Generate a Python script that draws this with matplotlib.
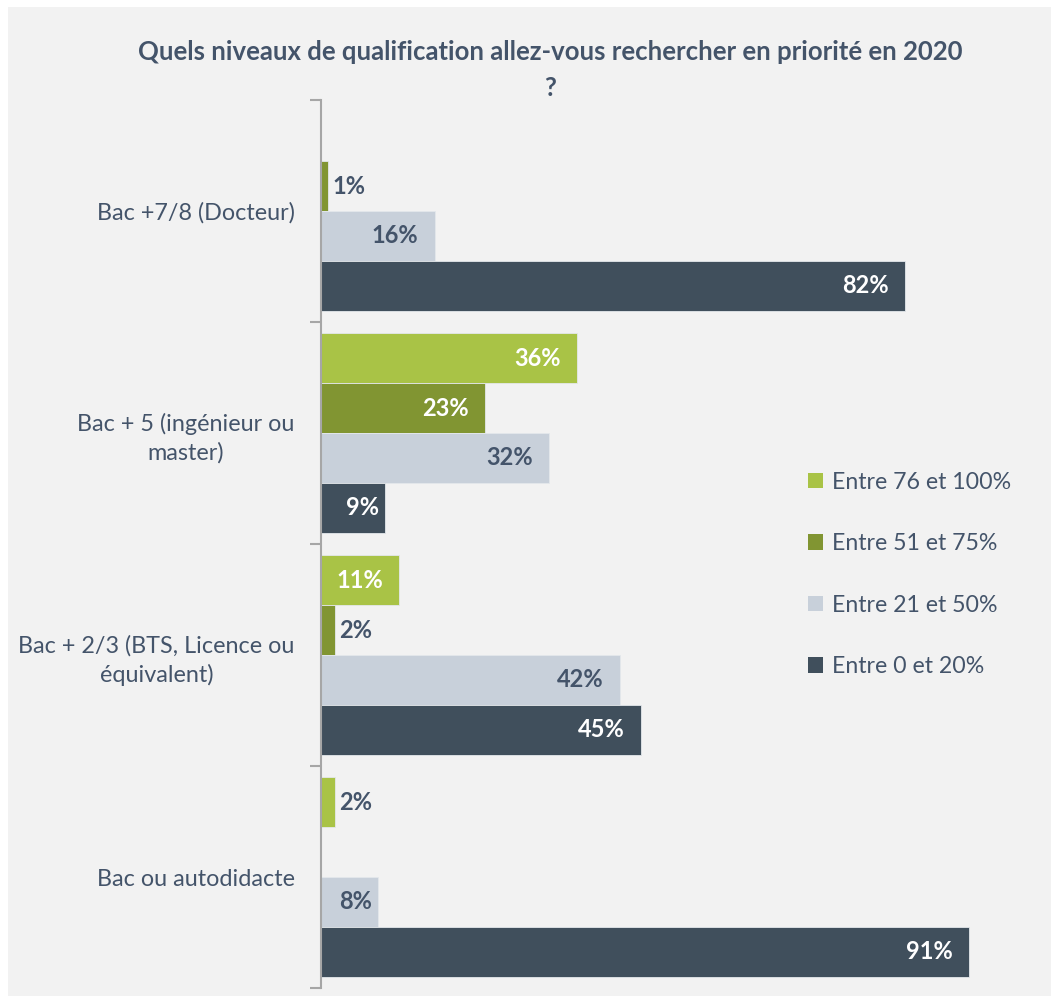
import numpy as np
import matplotlib.pyplot as plt
from matplotlib.patches import Rectangle, Patch

categories = ["Bac +7/8 (Docteur)", "Bac + 5 (ingénieur ou\nmaster)",
              "Bac + 2/3 (BTS, Licence ou\néquivalent)", "Bac ou autodidacte"]
series = ["Entre 76 et 100%", "Entre 51 et 75%", "Entre 21 et 50%", "Entre 0 et 20%"]
v_76_100 = [0, 36, 11, 2]
v_51_75 = [1, 23, 2, 0]
v_21_50 = [16, 32, 42, 8]
v_0_20 = [82, 9, 45, 91]
values = [v_76_100, v_51_75, v_21_50, v_0_20]

colors = ["#a9c346", "#819532", "#c8d0da", "#404f5c"]
label_colors = ["white", "white", "#44546a", "white"]
txt = "#44546a"
bg = "#f2f2f2"

plt.rcParams['font.family'] = ['Lato', 'DejaVu Sans']

fig = plt.figure(figsize=(10.51, 9.96), dpi=100, facecolor="white")
fig.patches.append(Rectangle((8 / 1051, 0), 1 - 8 / 1051, 1 - 7 / 996,
                             transform=fig.transFigure, facecolor=bg,
                             edgecolor="none", zorder=-10))
ax = fig.add_axes([321 / 1051, 8 / 996, 712 / 1051, 888 / 996])
ax.patch.set_alpha(0)

y = np.arange(len(categories))
h = 0.225
for i, vals in enumerate(values):
    pos = y + (i - 1.5) * h
    ax.barh(pos, vals, height=h, color=colors[i], edgecolor="#e4e8ec",
            linewidth=0.6, label=series[i], zorder=2)
    for p, v in zip(pos, vals):
        if v == 0:
            continue
        if v <= 2:
            ax.text(v + 0.6, p, f"{v}%", ha="left", va="center", color=txt,
                    fontsize=17, fontweight="bold")
        else:
            pad = 2.3 if v >= 10 else 0.8
            ax.text(v - pad, p, f"{v}%", ha="right", va="center",
                    color=label_colors[i], fontsize=17, fontweight="bold")

ax.set_xlim(0, 100)
ax.set_ylim(len(categories) - 0.5, -0.5)
ax.set_xticks([])
ax.set_yticks(y)
ax.set_yticklabels(categories, fontsize=16.8, color=txt, multialignment="center",
                   linespacing=1.4)
ax.set_yticks(np.arange(-0.5, len(categories), 1), minor=True)
ax.tick_params(axis="y", which="major", length=0, pad=19)
ax.tick_params(axis="y", which="minor", length=8, width=1.5, color="#a6a6a6")
for s in ["top", "right", "bottom"]:
    ax.spines[s].set_visible(False)
ax.spines["left"].set_color("#a6a6a6")
ax.spines["left"].set_linewidth(1.5)

handles = [Patch(facecolor=c, edgecolor="none") for c in colors]
ax.legend(handles, series, loc="center left", bbox_to_anchor=(0.654, 0.4657),
          frameon=False, fontsize=16.7, labelcolor=txt, handlelength=0.65,
          handleheight=0.65, handletextpad=0.4, labelspacing=1.75)

fig.text(550 / 1051, 1 - 40 / 996,
         "Quels niveaux de qualification allez-vous rechercher en priorité en 2020\n?",
         ha="center", va="top", fontsize=18.5, fontweight="bold", color=txt,
         linespacing=1.6)

fig.savefig("out.png", dpi=100, facecolor=fig.get_facecolor())
